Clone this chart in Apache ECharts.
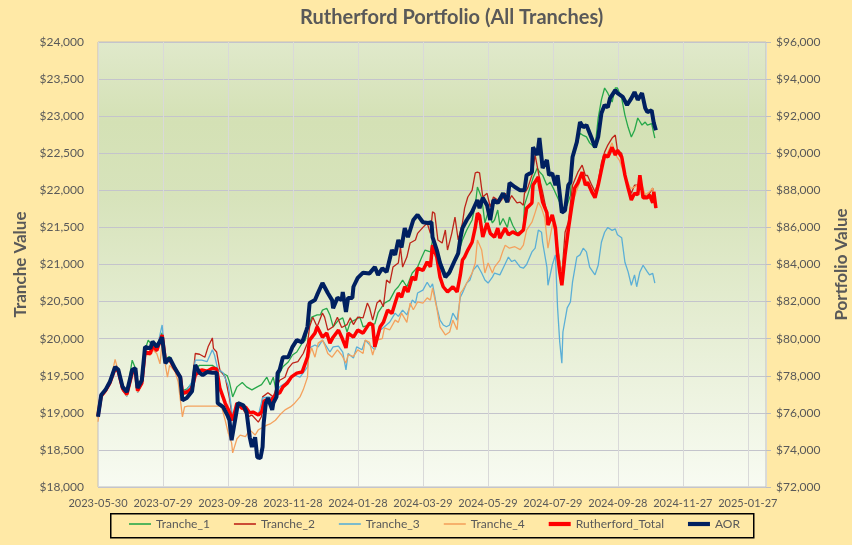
<!DOCTYPE html>
<html><head><meta charset="utf-8">
<script src="https://cdn.jsdelivr.net/npm/echarts@6/dist/echarts.min.js"></script>
<style>html,body{margin:0;padding:0;background:#FFE9A6}#c{width:852px;height:545px}</style>
</head><body><div id="c"></div>
<script>
// x values are day offsets from 2023-05-30
const xTickLabels = ['2023-05-30','2023-07-29','2023-09-28','2023-11-28','2024-01-28','2024-03-29','2024-05-29','2024-07-29','2024-09-28','2024-11-27','2025-01-27'];
const seriesNames = ['Tranche_1','Tranche_2','Tranche_3','Tranche_4','Rutherford_Total','AOR'];

const t1Days = [0,3,7,11,16,19,23,27,32,35,37,41,44,47,51,55,60,63,67,72,77,79,83,88,91,95,102,107,111,116,121,123,126,130,135,139,144,149,153,158,161,164,167,170,173,178,182,186,191,194,196,200,205,208,210,214,217,220,225,229,233,236,240,245,248,254,259,262,268,273,278,281,285,289,294,299,303,306,311,313,317,320,325,329,334,337,341,345,350,353,355,359,362,365,369,371,374,376,379,383,385,388,392,395,398,399,402,407,411,413,416,420,423,426,429,432,435,439,442,444,448,451,454,457,460,465,468,471,474,477,481,484,486,490,493,496,499,502,505,509,512,514,518,521];
const t1Vals = [18950,19220,19290,19410,19620,19560,19340,19270,19710,19600,19320,19420,19850,19980,19900,19870,20080,19730,19760,19610,19500,19300,19320,19400,19600,19640,19640,19640,19600,19540,19500,19415,19215,19350,19410,19350,19310,19350,19380,19480,19380,19480,19270,19540,19620,19685,19780,19820,19940,19980,20115,20290,20320,20320,20385,20410,20320,20160,20250,20280,20090,20220,20250,20290,20160,20185,20200,20350,20480,20520,20655,20700,20790,20700,20885,20965,21100,21195,21170,21330,21195,21060,20885,20860,21060,21150,21330,21465,21600,21800,22045,21900,21560,21710,21560,21600,21735,21530,21620,21500,21640,21530,21425,21440,21480,21800,21935,22165,22300,22250,22205,22070,22110,22030,21935,21840,21760,21800,21935,22475,22610,22770,22740,22720,22640,22570,22975,23220,23380,23310,23190,23380,23380,23240,23015,22850,22720,22810,22975,22880,22920,22880,22900,22705];

const t2Days = [0,3,7,11,16,19,23,27,32,35,37,41,44,49,51,55,60,63,67,72,77,79,83,88,91,95,100,103,107,108,111,114,119,123,126,130,136,140,144,150,153,154,159,164,167,170,175,178,182,187,192,196,198,201,205,210,212,215,220,224,228,233,236,239,243,248,252,254,257,261,264,267,270,273,276,281,283,285,289,292,297,299,304,308,311,313,315,318,322,325,327,331,334,337,341,343,346,350,353,355,357,360,364,367,370,374,376,379,381,384,387,392,395,398,399,402,406,409,413,416,421,426,430,434,437,440,444,449,453,456,458,462,465,468,471,474,477,481,484,486,490,493,496,499,502,505,507,510,514,516,519,522];
const t2Vals = [18940,19200,19300,19380,19600,19540,19300,19230,19530,19560,19290,19390,19810,19790,19890,19830,20040,19690,19700,19580,19470,19250,19260,19380,19800,19790,19750,19890,20010,19870,19820,19580,19480,19200,18900,19130,19040,18945,18970,18875,18950,19215,19270,19215,19350,19440,19480,19600,19670,19690,19800,19940,20160,20290,20160,20345,20290,20115,20160,20290,20150,20190,20280,20190,20290,20280,20480,20420,20250,20480,20520,20430,20790,20750,20965,21020,21235,20965,21100,21290,21330,21420,21500,21560,21420,21710,21690,21330,21290,21465,21195,21420,21640,21330,21560,21760,21910,22000,22235,22245,22235,21910,21960,21775,21910,21870,21840,21900,21960,21840,21930,21830,21840,21800,21960,22030,22205,22475,22165,21980,21625,21580,21220,20860,21435,21570,22070,22245,22340,22200,22200,22070,21980,22110,22370,22515,22610,22705,22745,22540,22500,22205,22070,21960,22070,22070,22110,21940,21920,21960,22030,21760];

const t3Days = [0,3,7,11,16,19,23,27,32,35,37,41,44,49,51,55,60,63,67,72,77,79,83,88,91,97,102,107,109,112,117,122,126,130,136,140,144,150,154,159,164,167,170,175,180,184,189,192,196,198,203,206,210,214,217,220,225,229,232,234,239,242,247,250,254,259,264,268,273,278,281,285,289,294,297,299,304,308,311,313,317,320,323,326,329,332,336,339,341,345,348,351,355,359,362,365,369,371,376,379,384,387,390,395,398,401,406,409,412,415,416,420,421,425,428,430,432,434,435,439,442,444,448,451,454,457,460,465,468,471,474,477,481,484,486,490,493,496,499,502,504,507,510,514,516,519,521];
const t3Vals = [18960,19250,19310,19420,19610,19570,19320,19220,19560,19560,19270,19390,19830,19820,19920,19860,20185,19720,19730,19600,19490,19280,19300,19420,19710,19710,19690,19850,19780,19590,19540,19360,18945,19130,19110,19000,19020,18970,19200,19215,19200,19270,19350,19400,19470,19510,19480,19540,19620,19875,19915,19890,19980,19890,19820,19890,19900,19820,19580,19800,19740,19890,19850,19980,19920,19850,20115,20160,20225,20345,20300,20385,20320,20520,20480,20615,20655,20760,20690,20740,20425,20250,20185,20160,20185,20345,20250,20560,20615,20750,20790,20925,20990,20885,20790,20750,20830,20885,20860,20950,21100,21040,21060,20965,20950,21000,21170,21220,21465,21435,21300,20965,20720,20990,21130,20415,19955,19670,20090,20415,20495,20765,21100,21130,21220,21170,20965,20860,20990,21300,21435,21500,21460,21480,21400,21360,21030,20900,20720,20860,20700,20900,20990,20900,20860,20880,20750];

const t4Days = [0,3,7,11,16,19,23,27,32,35,37,41,44,49,51,55,58,60,63,65,67,72,75,79,81,84,114,116,119,122,125,126,130,133,138,142,147,150,153,158,161,166,170,175,180,184,189,192,196,197,200,203,206,210,212,215,219,224,228,232,234,239,243,248,250,254,257,261,266,268,273,278,281,284,289,292,295,299,304,308,311,313,317,320,325,329,332,336,339,341,345,350,353,355,359,362,365,369,371,376,379,381,385,390,395,398,401,406,409,412,415,418,421,426,430,434,439,444,453,458,465,471,476,481,484,488,493,498,500,505,509,512,516,519,522];
const t4Vals = [18880,19200,19280,19380,19720,19560,19310,19230,19520,19550,19280,19380,19790,19780,19850,19800,19660,19950,19650,19480,19640,19560,19420,18945,19080,19090,19090,19060,18900,18720,18595,18460,18650,18700,18680,18770,18700,18770,18795,18835,18850,18900,18970,19040,19080,19130,19215,19310,19480,19750,19875,19750,19940,19980,19920,19800,19750,19850,19780,19670,19780,19760,19850,19800,19980,19950,19780,19980,20000,20145,20120,20250,20220,20345,20220,20480,20390,20495,20480,20550,20520,20680,20410,20160,20050,20090,20250,20120,20615,20650,20750,20885,21020,21330,21195,20885,21020,20885,20965,21060,21190,21260,21220,21240,21200,21260,21465,21570,21700,21840,21760,21625,21220,21600,21220,20860,21435,21840,22200,22110,21940,22310,22480,22640,22480,22400,22205,22030,22030,22070,22070,21940,21980,22030,21800];

const totalDays = [0,3,7,11,16,19,23,27,32,35,37,41,44,49,51,55,60,63,67,72,77,79,83,88,91,97,102,107,111,114,119,122,126,130,135,138,142,145,150,153,156,161,166,170,173,177,181,186,191,194,196,198,203,205,210,214,217,220,225,228,232,234,239,243,248,254,257,259,264,267,271,275,278,281,284,287,290,294,297,299,304,308,311,313,317,320,323,327,332,336,339,341,343,346,350,353,355,357,360,364,367,371,374,376,381,384,388,393,398,401,406,407,412,413,416,420,421,425,428,430,432,434,437,440,443,446,449,453,456,458,462,465,468,471,474,477,481,484,486,490,493,496,499,502,505,507,510,514,516,519,520,522];
const totalVals = [75840,76920,77200,77600,78400,78240,77320,77000,78160,78280,77200,77600,79280,79200,79600,79360,80200,78800,78880,78360,77920,77080,77120,77320,78040,78320,78240,78400,78360,77340,76520,76160,75600,76520,76240,76320,76000,76040,75880,76040,76680,76600,76960,77080,77400,77600,77940,78140,78200,78680,79000,79920,80300,80640,80080,80300,79760,80080,80460,80080,79500,80300,80080,80460,80300,80840,80740,79560,80640,80880,81540,81360,81920,82460,82240,82800,82520,83320,83160,83800,83680,84140,83880,85040,84400,83320,82800,82520,82800,82520,83440,84240,84400,84780,85200,86000,86760,86640,85480,86240,85680,85480,85960,85420,85960,85600,85760,85600,85860,87040,87320,88280,88720,88280,87360,86800,86120,86680,85960,84520,83600,82880,84520,85860,87040,88120,88400,88980,88280,88440,87920,87600,88280,89100,89900,89800,90320,89900,90160,89800,88820,88120,87480,87840,87760,88820,87600,87600,87760,87320,87920,87040];

const aorDays = [0,3,7,11,16,19,23,27,32,35,37,41,44,49,51,55,60,63,67,72,77,79,83,88,91,95,98,102,107,111,112,117,121,123,125,131,136,139,142,144,147,149,152,154,155,157,159,163,164,167,168,170,173,178,182,186,191,195,196,198,203,205,210,215,219,220,224,228,229,232,234,238,239,243,248,254,259,262,266,270,275,278,281,284,287,290,295,299,304,309,312,313,317,320,325,329,334,337,339,341,345,350,355,357,360,364,367,370,374,379,383,385,390,395,399,401,406,407,411,413,416,420,422,425,428,430,434,437,440,442,444,448,451,454,457,462,465,468,471,474,477,479,484,486,491,495,499,502,505,509,512,514,518,520,522];
const aorVals = [75790,76960,77240,77660,78480,78320,77400,77120,78320,78400,77340,77760,79560,79480,79840,79560,80080,78680,78960,78400,77920,76680,76800,77160,78580,78160,78040,78200,78160,78160,76520,76320,75880,75600,74520,76520,76400,76040,74680,74160,74680,73600,73560,74160,75440,76520,76800,76160,76520,76860,78140,78320,79000,79000,79560,79920,79800,80460,80640,81920,82080,82360,83000,82460,82080,81640,82200,82080,82520,81440,82200,82200,82800,83280,83560,83520,83860,83440,83800,83600,84780,84520,85320,84920,85960,85480,86400,86680,86280,86240,86280,85480,84780,84080,83320,83600,84240,84600,85400,85960,86400,86840,87480,87040,87600,87200,86400,87480,87320,87840,87360,88400,88180,88000,88000,88820,88980,90320,89900,90820,89200,89640,88820,88920,88280,88820,86800,86920,88280,88440,89800,90600,91680,91400,91520,90800,90320,90880,92160,92600,92480,92960,93400,93240,93040,92600,92960,93300,92880,93240,92440,92220,92320,91640,91240];

const zip = (d, v) => d.map((x, i) => [x, v[i]]);
const FONT = 'Lato';
const GREY = '#595959';
const TICK_STEP = 60.8;
const THIN_ICON = 'path://M0,0 L22,0 L22,1.6 L0,1.6 Z';
const THICK_ICON = 'path://M0,0 L22,0 L22,4.2 L0,4.2 Z';

const chart = echarts.init(document.getElementById('c'), null, {renderer: 'canvas'});
const money = v => '$' + Number(v).toLocaleString('en-US');

chart.setOption({
  backgroundColor: '#FFE9A6',
  textStyle: {fontFamily: FONT},
  animation: false,
  title: {
    text: 'Rutherford Portfolio (All Tranches)',
    left: 300, top: 8, padding: 0,
    textStyle: {fontFamily: FONT, fontSize: 20, fontWeight: 'bold', color: GREY}
  },
  graphic: [{
    type: 'rect', left: 110, top: 513, silent: true,
    shape: {width: 643, height: 24},
    style: {fill: 'transparent', stroke: '#000', lineWidth: 1.5}
  }],
  legend: {
    data: seriesNames.map((n, i) => ({name: n, icon: i < 4 ? THIN_ICON : THICK_ICON})),
    left: 129, top: 513,
    padding: [5, 0],
    itemGap: 24, itemWidth: 22, itemHeight: 10,
    symbolKeepAspect: true,
    textStyle: {fontFamily: FONT, fontSize: 12, color: GREY}
  },
  grid: {
    left: 98, right: 86, top: 42, bottom: 58,
    outerBoundsMode: 'none', containLabel: false,
    show: true, borderColor: '#BFBFBF', borderWidth: 1,
    backgroundColor: {
      type: 'linear', x: 0, y: 0, x2: 0, y2: 1,
      colorStops: [
        {offset: 0, color: '#E0E9CB'},
        {offset: 0.18, color: '#D4E1B5'},
        {offset: 0.35, color: '#D7E3BB'},
        {offset: 1, color: '#F8FBF2'}
      ]
    }
  },
  xAxis: {
    type: 'value', min: 0, max: 625, interval: TICK_STEP,
    axisLine: {show: false}, axisTick: {show: false},
    splitLine: {show: true, lineStyle: {color: '#D9D9D9', width: 1}},
    axisLabel: {
      color: GREY, fontSize: 11, fontFamily: FONT, margin: 11, showMaxLabel: false,
      formatter: v => {
        const k = Math.round(v / TICK_STEP);
        return Math.abs(v / TICK_STEP - k) < 0.01 && xTickLabels[k] ? xTickLabels[k] : '';
      }
    }
  },
  yAxis: [
    {
      type: 'value', min: 18000, max: 24000, interval: 500, position: 'left',
      name: 'Tranche Value', nameLocation: 'middle', nameRotate: 90, nameGap: 60,
      nameTextStyle: {fontFamily: FONT, fontSize: 17, fontWeight: 'bold', color: GREY},
      axisLine: {show: false}, axisTick: {show: false},
      splitLine: {show: true, lineStyle: {color: '#C4C4CC', width: 1}},
      axisLabel: {color: GREY, fontSize: 12, fontFamily: FONT, margin: 14, formatter: money}
    },
    {
      type: 'value', min: 72000, max: 96000, interval: 2000, position: 'right',
      name: 'Portfolio Value', nameLocation: 'middle', nameRotate: 90, nameGap: 67,
      nameTextStyle: {fontFamily: FONT, fontSize: 17, fontWeight: 'bold', color: GREY},
      axisLine: {show: false},
      axisTick: {show: true, length: 5, lineStyle: {color: '#BFBFBF'}},
      splitLine: {show: false},
      axisLabel: {color: GREY, fontSize: 12, fontFamily: FONT, margin: 10, formatter: money}
    }
  ],
  series: [
    {name: 'Tranche_1', type: 'line', yAxisIndex: 0, data: zip(t1Days, t1Vals), showSymbol: false, symbol: 'none', lineStyle: {color: '#27A84A', width: 1.3}, itemStyle: {color: '#27A84A'}},
    {name: 'Tranche_2', type: 'line', yAxisIndex: 0, data: zip(t2Days, t2Vals), showSymbol: false, symbol: 'none', lineStyle: {color: '#BE2419', width: 1.3}, itemStyle: {color: '#BE2419'}},
    {name: 'Tranche_3', type: 'line', yAxisIndex: 0, data: zip(t3Days, t3Vals), showSymbol: false, symbol: 'none', lineStyle: {color: '#5BAFD6', width: 1.3}, itemStyle: {color: '#5BAFD6'}},
    {name: 'Tranche_4', type: 'line', yAxisIndex: 0, data: zip(t4Days, t4Vals), showSymbol: false, symbol: 'none', lineStyle: {color: '#F4A25E', width: 1.3}, itemStyle: {color: '#F4A25E'}},
    {name: 'Rutherford_Total', type: 'line', yAxisIndex: 1, data: zip(totalDays, totalVals), showSymbol: false, symbol: 'none', lineStyle: {color: '#FF0000', width: 3.5}, itemStyle: {color: '#FF0000'}},
    {name: 'AOR', type: 'line', yAxisIndex: 1, data: zip(aorDays, aorVals), showSymbol: false, symbol: 'none', lineStyle: {color: '#002060', width: 4}, itemStyle: {color: '#002060'}}
  ]
});
</script></body></html>
